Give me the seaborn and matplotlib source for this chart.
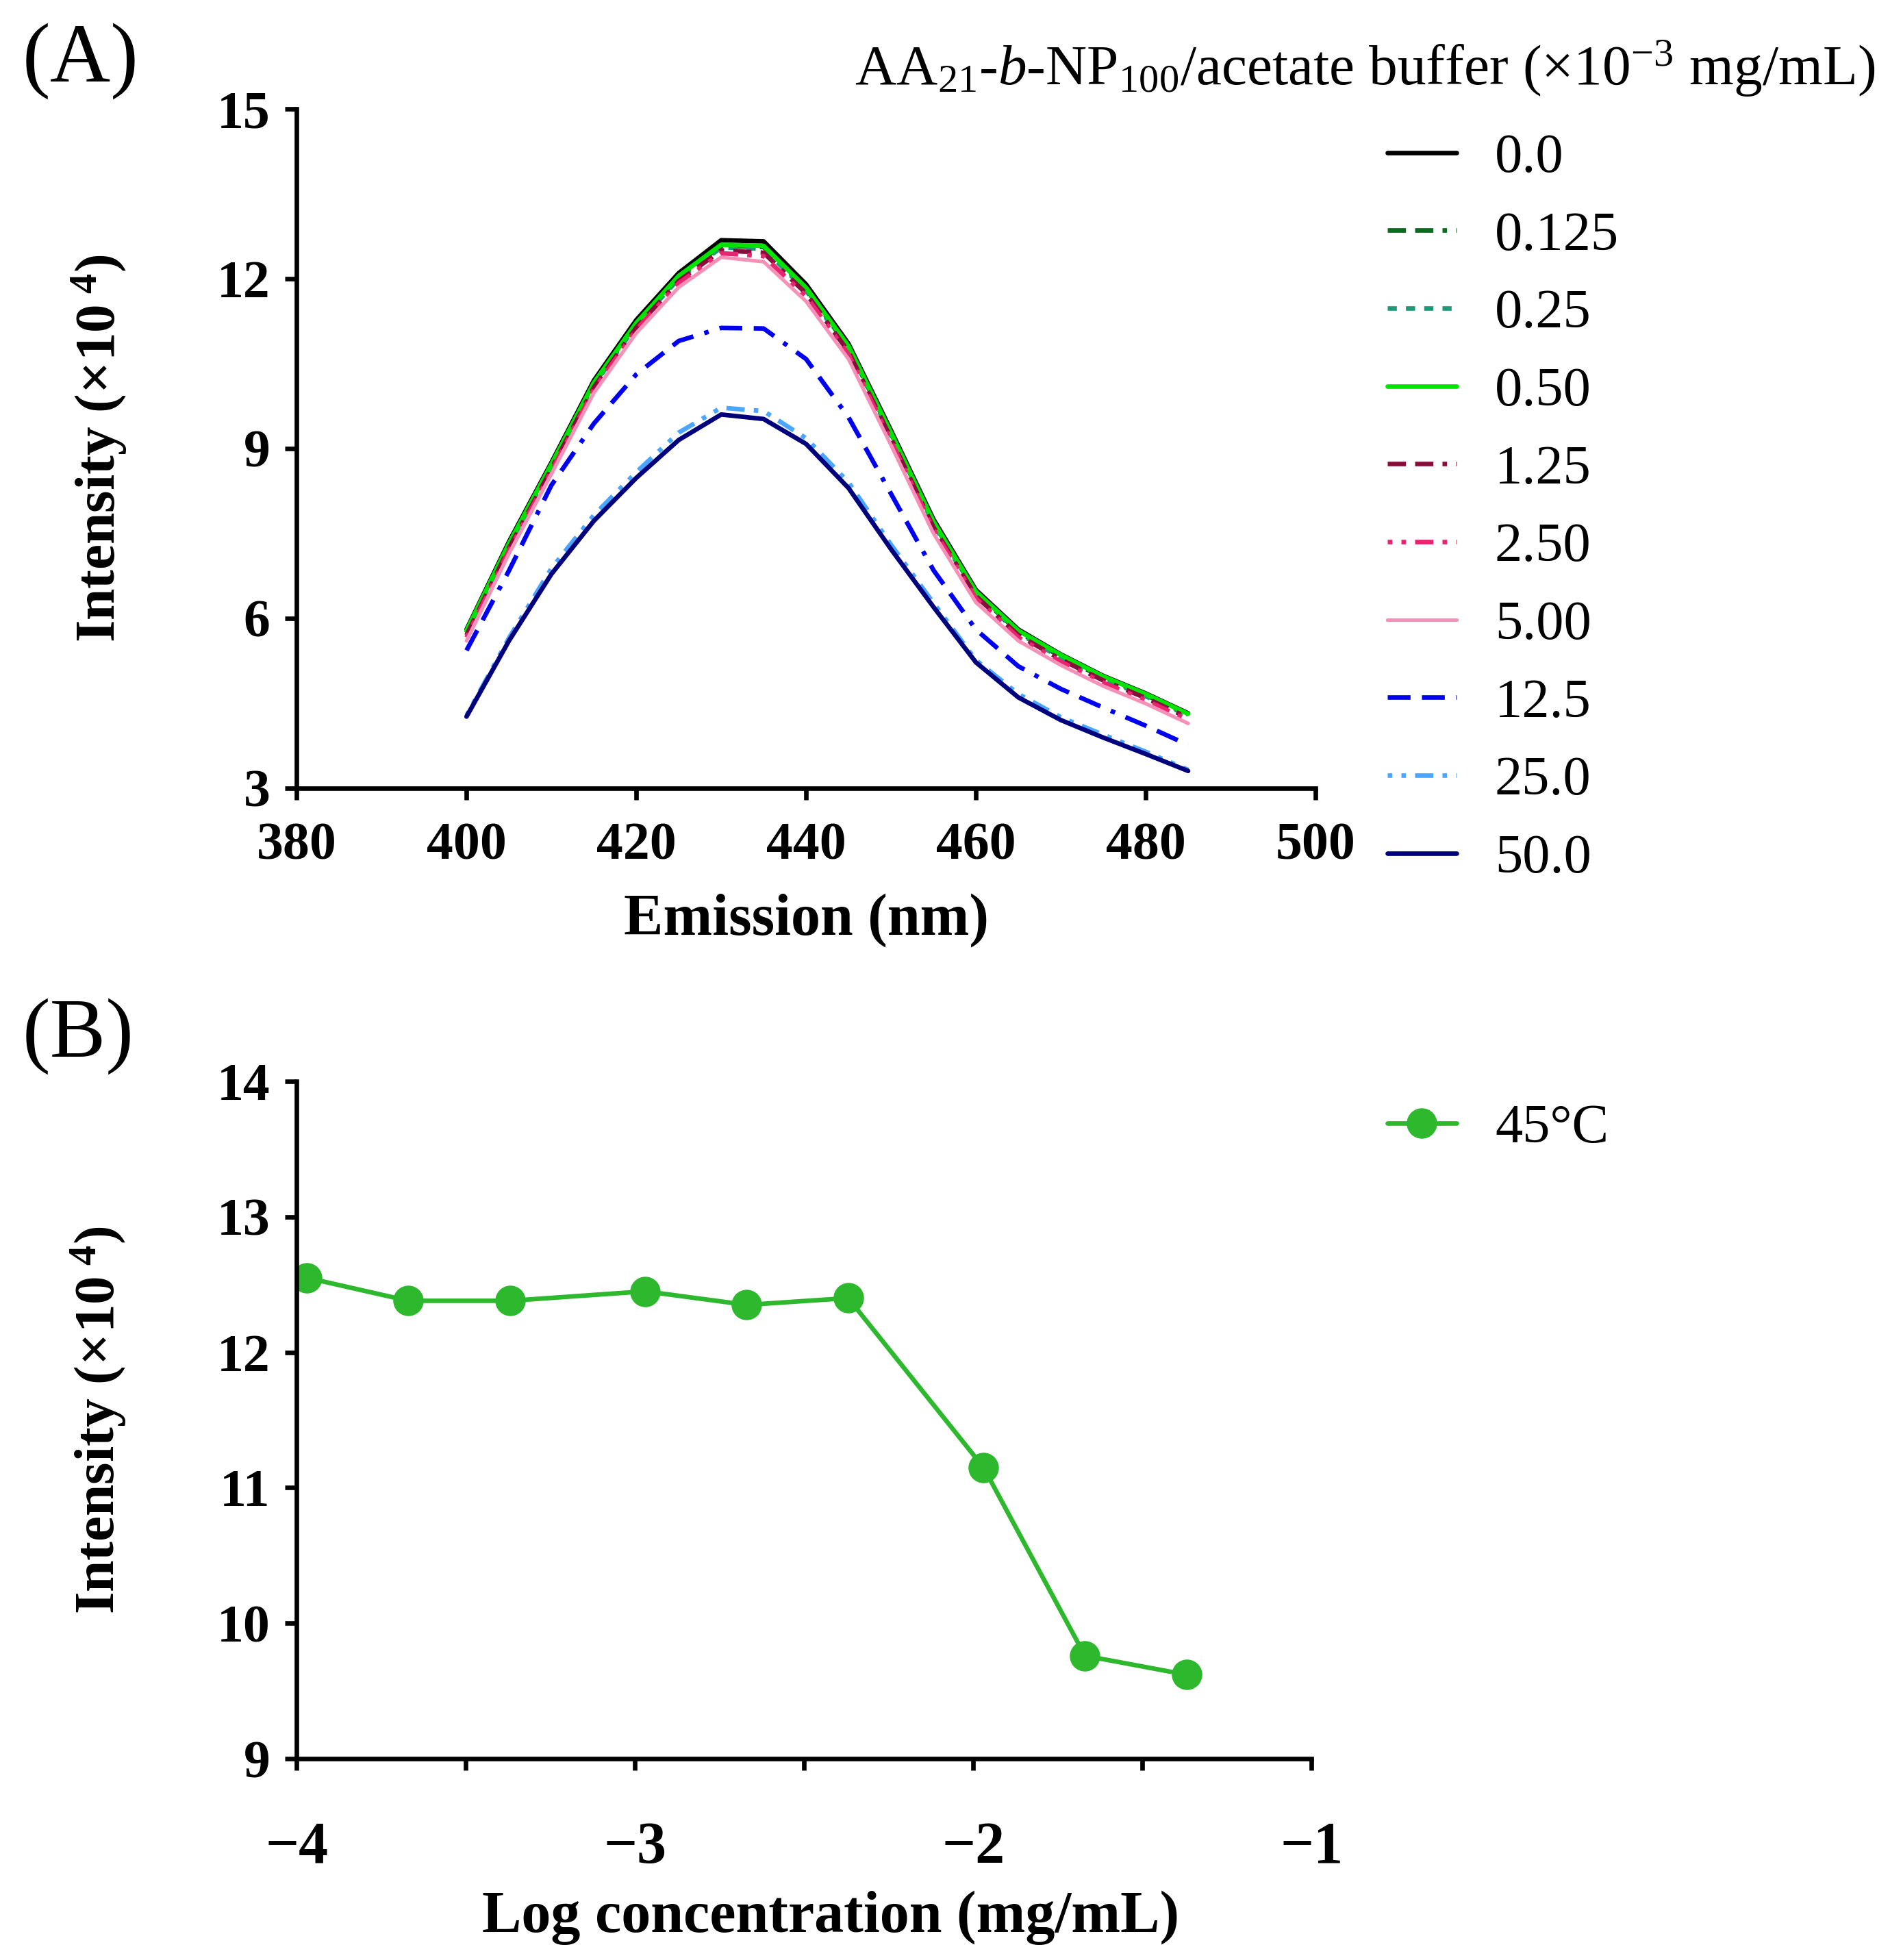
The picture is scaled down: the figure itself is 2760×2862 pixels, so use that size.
import numpy as np
import pandas as pd
import matplotlib
matplotlib.use('agg')
import matplotlib.pyplot as plt
import seaborn as sns

# panel A: emission spectra at each concentration (x10^-3 mg/mL)
emission_nm = [400, 405, 410, 415, 420, 425, 430, 435, 440, 445, 450, 455, 460, 465, 470, 475, 480, 485]
conc_labels = ['0.0', '0.125', '0.25', '0.50', '1.25', '2.50', '5.00', '12.5', '25.0', '50.0']

int_0_0 = [5.80, 7.35, 8.75, 10.20, 11.27, 12.10, 12.68, 12.66, 11.90, 10.85, 9.32, 7.75, 6.50, 5.80, 5.36, 4.98, 4.67, 4.32]
int_0_125 = [5.76, 7.30, 8.70, 10.14, 11.20, 12.03, 12.58, 12.56, 11.82, 10.78, 9.26, 7.69, 6.45, 5.76, 5.32, 4.95, 4.64, 4.30]
int_0_25 = [5.74, 7.28, 8.68, 10.12, 11.18, 12.00, 12.55, 12.53, 11.79, 10.76, 9.23, 7.66, 6.43, 5.74, 5.30, 4.93, 4.62, 4.28]
int_0_50 = [5.78, 7.32, 8.72, 10.16, 11.22, 12.05, 12.60, 12.58, 11.84, 10.81, 9.28, 7.71, 6.47, 5.78, 5.35, 4.97, 4.66, 4.31]
int_1_25 = [5.70, 7.24, 8.64, 10.08, 11.14, 11.96, 12.50, 12.46, 11.74, 10.71, 9.18, 7.61, 6.39, 5.70, 5.27, 4.90, 4.59, 4.24]
int_2_50 = [5.66, 7.20, 8.60, 10.04, 11.10, 11.92, 12.45, 12.40, 11.69, 10.66, 9.13, 7.57, 6.35, 5.66, 5.23, 4.86, 4.55, 4.20]
int_5_00 = [5.60, 7.14, 8.55, 9.98, 11.04, 11.85, 12.38, 12.30, 11.60, 10.58, 9.06, 7.50, 6.28, 5.60, 5.17, 4.80, 4.49, 4.14]
int_12_5 = [5.43, 6.84, 8.35, 9.44, 10.31, 10.90, 11.13, 11.12, 10.58, 9.55, 8.20, 6.85, 5.80, 5.15, 4.75, 4.42, 4.10, 3.76]
int_25_0 = [4.28, 5.65, 6.88, 7.82, 8.58, 9.28, 9.72, 9.66, 9.18, 8.40, 7.30, 6.27, 5.26, 4.66, 4.25, 3.94, 3.64, 3.32]
int_50_0 = [4.26, 5.60, 6.78, 7.72, 8.48, 9.15, 9.60, 9.52, 9.08, 8.30, 7.22, 6.20, 5.22, 4.60, 4.20, 3.89, 3.60, 3.30]

# panel B: peak intensity vs log concentration at 45 C
log_conc = [-3.97, -3.67, -3.37, -2.97, -2.67, -2.37, -1.97, -1.67, -1.37]
intensity_45 = [12.55, 12.38, 12.38, 12.45, 12.35, 12.40, 11.15, 9.76, 9.62]

series = [int_0_0, int_0_125, int_0_25, int_0_50, int_1_25, int_2_50, int_5_00, int_12_5, int_25_0, int_50_0]
df_a = pd.concat([pd.DataFrame({'nm': emission_nm, 'intensity': s, 'conc': c})
                  for s, c in zip(series, conc_labels)], ignore_index=True)
df_b = pd.DataFrame({'logc': log_conc, 'intensity': intensity_45, 'temp': '45°C'})

palette = {'0.0': '#000000', '0.125': '#0b6a1c', '0.25': '#1f9a78', '0.50': '#00e400',
           '1.25': '#8a0c3c', '2.50': '#e8246e', '5.00': '#f590b8', '12.5': '#0000f0',
           '25.0': '#4aa6ff', '50.0': '#00007c'}
dashes = {'0.0': '', '0.125': (4, 2, 4, 2, 1, 2), '0.25': (2, 2), '0.50': '',
          '1.25': (4, 2, 4, 2, 1, 2), '2.50': (1, 2, 1, 2, 4, 2), '5.00': '',
          '12.5': (5, 2.5, 5, 2.5, 1, 2.5), '25.0': (1, 2, 1, 2, 4, 2), '50.0': ''}

sns.set_style('ticks')
plt.rcParams['font.family'] = ['Liberation Serif', 'DejaVu Serif']
plt.rcParams['mathtext.fontset'] = 'custom'
plt.rcParams['mathtext.rm'] = 'Liberation Serif'
plt.rcParams['mathtext.it'] = 'Liberation Serif:italic'
plt.rcParams['mathtext.bf'] = 'Liberation Serif:bold'
for key in ('text.color', 'axes.labelcolor', 'xtick.color', 'ytick.color', 'axes.edgecolor'):
    plt.rcParams[key] = 'black'

fig = plt.figure(figsize=(13.8, 14.31), dpi=200)
ax_a = fig.add_axes([0.157, 0.598, 0.539, 0.3464])
ax_b = fig.add_axes([0.157, 0.1027, 0.537, 0.3456])

sns.lineplot(data=df_a, x='nm', y='intensity', hue='conc', style='conc',
             hue_order=conc_labels, style_order=conc_labels, palette=palette,
             dashes=dashes, linewidth=2.4, errorbar=None, legend=False, ax=ax_a)
for ln, c in zip(ax_a.lines, conc_labels):
    if c == '5.00':
        ln.set_linewidth(1.9)

sns.lineplot(data=df_b, x='logc', y='intensity', color='#2db82d', marker='o',
             markersize=16, markeredgewidth=0, linewidth=2.4, errorbar=None,
             legend=False, ax=ax_b)

for ax in (ax_a, ax_b):
    ax.spines[['top', 'right']].set_visible(False)
    for s in ('left', 'bottom'):
        ax.spines[s].set_linewidth(2.4)
    ax.tick_params(direction='out', length=6, width=2.4, labelsize=28)

ax_a.set_xlim(380, 500)
ax_a.set_ylim(3, 15)
ax_a.set_xticks([380, 400, 420, 440, 460, 480, 500])
ax_a.set_yticks([3, 6, 9, 12, 15])
ax_a.tick_params(axis='x', pad=12)
ax_a.tick_params(axis='y', pad=8)
for t in ax_a.get_xticklabels() + ax_a.get_yticklabels():
    t.set_fontweight('bold')
ax_a.set_xlabel('Emission (nm)', fontsize=31, fontweight='bold')
ax_a.set_ylabel(r'Intensity (×10$^{\mathbf{\ 4}}$)', fontsize=30, fontweight='bold')
ax_a.xaxis.set_label_coords(0.5, -0.155)
ax_a.yaxis.set_label_coords(-0.165, 0.5)

ax_b.set_xlim(-4, -1)
ax_b.set_ylim(9, 14)
ax_b.set_xticks([-4, -3, -2, -1])
ax_b.set_xticks([-3.5, -2.5, -1.5], minor=True)
ax_b.set_yticks([9, 10, 11, 12, 13, 14])
ax_b.tick_params(axis='x', which='minor', direction='out', length=6, width=2.4)
ax_b.tick_params(axis='x', labelsize=31, pad=27)
ax_b.tick_params(axis='y', pad=8)
for t in ax_b.get_xticklabels() + ax_b.get_yticklabels():
    t.set_fontweight('bold')
ax_b.set_xlabel('Log concentration (mg/mL)', fontsize=31, fontweight='bold')
ax_b.set_ylabel(r'Intensity (×10$^{\mathbf{\ 4}}$)', fontsize=30, fontweight='bold')
ax_b.xaxis.set_label_coords(0.526, -0.195)
ax_b.yaxis.set_label_coords(-0.166, 0.5)

# legends
fig.text(0.992, 0.965, r'AA$_{21}$-$b$-NP$_{100}$/acetate buffer (×10$^{-3}$ mg/mL)',
         ha='right', va='center', fontsize=30)
fig.legend(ax_a.lines, conc_labels, loc='upper left', bbox_to_anchor=(0.734, 0.932),
           frameon=False, fontsize=29, handlelength=1.25, handletextpad=0.7,
           labelspacing=0.5, borderpad=0, borderaxespad=0)
fig.legend(ax_b.lines, ['45°C'], loc='upper left', bbox_to_anchor=(0.734, 0.437),
           frameon=False, fontsize=29, handlelength=1.25, handletextpad=0.7,
           borderpad=0, borderaxespad=0)

fig.text(0.012, 0.969, '(A)', ha='left', va='center', fontsize=44)
fig.text(0.012, 0.4713, '(B)', ha='left', va='center', fontsize=44)

fig.savefig('out.png', dpi=200)
